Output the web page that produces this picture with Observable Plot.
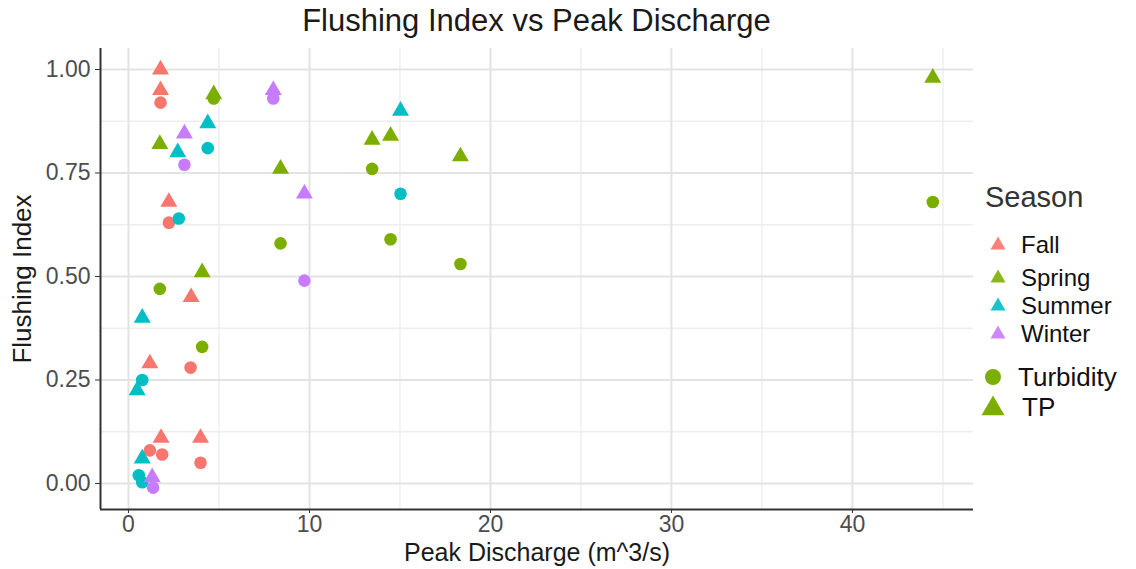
<!DOCTYPE html>
<html>
<head>
<meta charset="utf-8">
<script src="https://cdn.jsdelivr.net/npm/d3@7"></script>
<script src="https://cdn.jsdelivr.net/npm/@observablehq/plot@0.6"></script>
<style>
  body { margin: 0; background: #fff; }
  #wrap { position: relative; width: 1136px; height: 569px; font-family: "Liberation Sans", Arial, sans-serif; }
  #title { position: absolute; left: 100px; top: 0; width: 873px; height: 40px; line-height: 42px; text-align: center; font-size: 31px; color: #1a1a1a; }
  #chart { position: absolute; left: 0; top: 40px; }
  #legend { position: absolute; left: 960px; top: 160px; }
</style>
</head>
<body>
<div id="wrap">
  <div id="title">Flushing Index vs Peak Discharge</div>
  <div id="chart"></div>
  <svg id="legend" width="176" height="270"></svg>
</div>
<script>
// ---- data ----
const seasons = ["Fall", "Spring", "Summer", "Winter"];
const seasonColors = ["#F8766D", "#7CAE00", "#00BFC4", "#C77CFF"];
const measures = ["Turbidity", "TP"];
const measureSymbols = ["circle", "triangle"];
const xTicks = [0, 10, 20, 30, 40];
const xMinorTicks = [5, 15, 25, 35, 45];
const yTicks = [0, 0.25, 0.5, 0.75, 1];
const yMinorTicks = [0.125, 0.375, 0.625, 0.875];

const season = [
  "Fall","Fall","Fall","Fall","Fall","Fall","Fall",
  "Fall","Fall","Fall","Fall","Fall","Fall",
  "Spring","Spring","Spring","Spring","Spring","Spring","Spring","Spring",
  "Spring","Spring","Spring","Spring","Spring","Spring","Spring","Spring",
  "Summer","Summer","Summer","Summer","Summer","Summer",
  "Summer","Summer","Summer","Summer","Summer","Summer",
  "Winter","Winter","Winter","Winter",
  "Winter","Winter","Winter","Winter"
];
const measure = [
  "TP","TP","TP","TP","TP","TP","TP",
  "Turbidity","Turbidity","Turbidity","Turbidity","Turbidity","Turbidity",
  "TP","TP","TP","TP","TP","TP","TP","TP",
  "Turbidity","Turbidity","Turbidity","Turbidity","Turbidity","Turbidity","Turbidity","Turbidity",
  "TP","TP","TP","TP","TP","TP",
  "Turbidity","Turbidity","Turbidity","Turbidity","Turbidity","Turbidity",
  "TP","TP","TP","TP",
  "Turbidity","Turbidity","Turbidity","Turbidity"
];
const discharge = [
  1.77, 1.77, 2.23, 3.46, 1.18, 1.80, 3.98,
  1.77, 2.23, 3.43, 1.18, 1.86, 3.98,
  4.71, 1.73, 8.40, 13.46, 14.48, 18.34, 44.44, 4.07,
  4.71, 1.73, 8.40, 13.46, 14.48, 18.34, 44.44, 4.07,
  4.38, 2.72, 15.03, 0.76, 0.48, 0.76,
  4.38, 2.78, 15.03, 0.76, 0.57, 0.76,
  3.09, 8.00, 9.72, 1.31,
  3.09, 8.00, 9.72, 1.36
];
const flushing = [
  1.00, 0.95, 0.68, 0.45, 0.29, 0.11, 0.11,
  0.92, 0.63, 0.28, 0.08, 0.07, 0.05,
  0.94, 0.82, 0.76, 0.83, 0.84, 0.79, 0.98, 0.51,
  0.93, 0.47, 0.58, 0.76, 0.59, 0.53, 0.68, 0.33,
  0.87, 0.80, 0.90, 0.40, 0.225, 0.06,
  0.81, 0.64, 0.70, 0.25, 0.02, 0.003,
  0.845, 0.95, 0.70, 0.015,
  0.77, 0.93, 0.49, -0.01
];

const xDomain = [-1.547, 46.69];
const yDomain = [-0.0628, 1.0507];
const idx = d3.range(discharge.length);

const chart = Plot.plot({
  width: 1136,
  height: 529,
  marginLeft: 100,
  marginRight: 163,
  marginTop: 8,
  marginBottom: 60,
  style: { fontFamily: "Liberation Sans, Arial, sans-serif", fontSize: "23px", color: "#4d4d4d", background: "#fff" },
  x: { domain: xDomain },
  y: { domain: yDomain },
  color: { domain: seasons, range: seasonColors },
  symbol: { domain: measures, range: measureSymbols },
  marks: [
    Plot.gridX(xMinorTicks, { stroke: "#ededed", strokeOpacity: 1, strokeWidth: 1.4 }),
    Plot.gridY(yMinorTicks, { stroke: "#ededed", strokeOpacity: 1, strokeWidth: 1.4 }),
    Plot.gridX(xTicks, { stroke: "#e3e3e3", strokeOpacity: 1, strokeWidth: 2 }),
    Plot.gridY(yTicks, { stroke: "#e3e3e3", strokeOpacity: 1, strokeWidth: 2 }),
    Plot.axisX(xTicks, { tickSize: 4, tickPadding: 2, label: null, tickFormat: d => String(d), stroke: "#333", fill: "#4d4d4d", fontSize: 23 }),
    Plot.axisY(yTicks, { tickSize: 5, tickPadding: 5, label: null, tickFormat: d => d.toFixed(2), stroke: "#333", fill: "#4d4d4d", fontSize: 23 }),
    Plot.ruleX([xDomain[0]], { stroke: "#333", strokeWidth: 2 }),
    Plot.ruleY([yDomain[0]], { stroke: "#333", strokeWidth: 2 }),
    Plot.text(["Peak Discharge (m^3/s)"], { text: d => d, frameAnchor: "bottom", lineAnchor: "middle", textAnchor: "middle", dy: 43, fontSize: 25, fill: "#1a1a1a" }),
    Plot.text(["Flushing Index"], { text: d => d, frameAnchor: "left", textAnchor: "middle", lineAnchor: "middle", dx: -78, rotate: -90, fontSize: 26, fill: "#1a1a1a" }),
    Plot.dot(idx, {
      x: i => discharge[i],
      y: i => flushing[i],
      fill: i => season[i],
      symbol: i => measure[i],
      r: 6.3,
      stroke: "none"
    })
  ]
});
document.getElementById("chart").appendChild(chart);

// ---- legend ----
const lg = d3.select("#legend");
function tri(cx, cy, w) {
  const h = w * 0.866;
  return `${cx},${cy - h * 0.58} ${cx - w / 2},${cy + h * 0.42} ${cx + w / 2},${cy + h * 0.42}`;
}
const lgFont = "Liberation Sans, Arial, sans-serif";
lg.append("text").attr("x", 25).attr("y", 37).attr("dominant-baseline", "central")
  .style("font-family", lgFont).style("font-size", "29px").attr("fill", "#333").text("Season");
const seasonY = [84, 117, 145, 173];
seasons.forEach((s, i) => {
  lg.append("polygon").attr("points", tri(38, seasonY[i], 15)).attr("fill", seasonColors[i]).attr("fill-opacity", 0.9);
  lg.append("text").attr("x", 61).attr("y", seasonY[i]).attr("dominant-baseline", "central")
    .style("font-family", lgFont).style("font-size", "24px").attr("fill", "#111").text(s);
});
lg.append("circle").attr("cx", 33).attr("cy", 217).attr("r", 8).attr("fill", seasonColors[1]);
lg.append("text").attr("x", 58).attr("y", 217).attr("dominant-baseline", "central")
  .style("font-family", lgFont).style("font-size", "26px").attr("fill", "#111").text(measures[0]);
lg.append("polygon").attr("points", tri(33, 247, 23)).attr("fill", seasonColors[1]);
lg.append("text").attr("x", 62).attr("y", 247).attr("dominant-baseline", "central")
  .style("font-family", lgFont).style("font-size", "26px").attr("fill", "#111").text(measures[1]);
</script>
</body>
</html>
